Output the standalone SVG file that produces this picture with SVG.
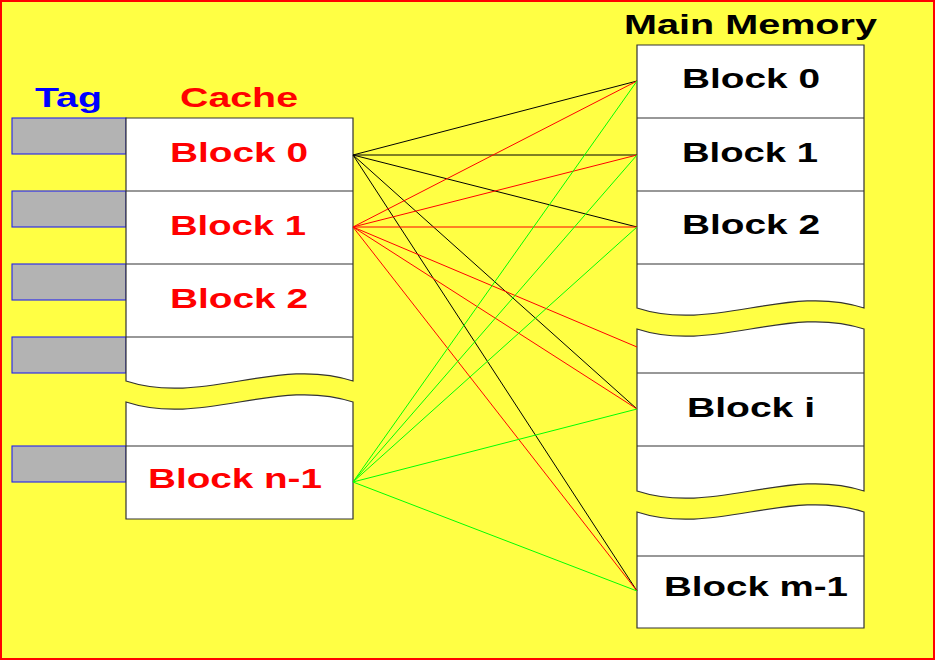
<svg xmlns="http://www.w3.org/2000/svg" width="935" height="660" viewBox="0 0 935 660">
<style>
.box{fill:#ffffff;stroke:#333333;stroke-width:1.2}
.div{stroke:#333333;stroke-width:1.2}
.tag{fill:#b3b3b3;stroke:#2222ee;stroke-width:1.1}
.t{font-family:"Liberation Sans",Arial,sans-serif;font-weight:bold;font-size:27px}
.red{fill:#ff0000}
.blk{fill:#000000}
.blue{fill:#0000ff}
.k{stroke:#000000;stroke-width:1}
.r{stroke:#ff0000;stroke-width:1}
.g{stroke:#00ff00;stroke-width:1}
</style>
<rect x="1" y="1" width="933" height="658" fill="#ffff44" stroke="#ff0000" stroke-width="2"/>
<g id="labels">
<text class="t blue" x="35" y="107" textLength="67" lengthAdjust="spacingAndGlyphs">Tag</text>
<text class="t red" x="180" y="107" textLength="118" lengthAdjust="spacingAndGlyphs">Cache</text>
<text class="t blk" x="624" y="34" textLength="253" lengthAdjust="spacingAndGlyphs">Main Memory</text>
</g>
<g id="tags">
<rect class="tag" x="12" y="118" width="114" height="36"/>
<rect class="tag" x="12" y="191" width="114" height="36"/>
<rect class="tag" x="12" y="264" width="114" height="36"/>
<rect class="tag" x="12" y="337" width="114" height="36"/>
<rect class="tag" x="12" y="446" width="114" height="36"/>
</g>
<g id="cache-upper">
<path class="box" d="M126 118 H353 V381 C277 356 202 406 126 381 Z"/>
<line class="div" x1="126" y1="191" x2="353" y2="191"/>
<line class="div" x1="126" y1="264" x2="353" y2="264"/>
<line class="div" x1="126" y1="337" x2="353" y2="337"/>
<text class="t red" x="170" y="162" textLength="138" lengthAdjust="spacingAndGlyphs">Block 0</text>
<text class="t red" x="170" y="235" textLength="136" lengthAdjust="spacingAndGlyphs">Block 1</text>
<text class="t red" x="170" y="308" textLength="138" lengthAdjust="spacingAndGlyphs">Block 2</text>
</g>
<g id="cache-lower">
<path class="box" d="M126 402 C202 427 277 377 353 402 V519 H126 Z"/>
<line class="div" x1="126" y1="446" x2="353" y2="446"/>
<text class="t red" x="148" y="488" textLength="174" lengthAdjust="spacingAndGlyphs">Block n-1</text>
</g>
<g id="mem-upper">
<path class="box" d="M637 45 H864 V308 C788 283 713 333 637 308 Z"/>
<line class="div" x1="637" y1="118" x2="864" y2="118"/>
<line class="div" x1="637" y1="191" x2="864" y2="191"/>
<line class="div" x1="637" y1="264" x2="864" y2="264"/>
<text class="t blk" x="682" y="88" textLength="138" lengthAdjust="spacingAndGlyphs">Block 0</text>
<text class="t blk" x="682" y="162" textLength="136" lengthAdjust="spacingAndGlyphs">Block 1</text>
<text class="t blk" x="682" y="234" textLength="138" lengthAdjust="spacingAndGlyphs">Block 2</text>
</g>
<g id="mem-middle">
<path class="box" d="M637 329 C713 354 788 304 864 329 V491 C788 466 713 516 637 491 Z"/>
<line class="div" x1="637" y1="373" x2="864" y2="373"/>
<line class="div" x1="637" y1="446" x2="864" y2="446"/>
<text class="t blk" x="687" y="417" textLength="128" lengthAdjust="spacingAndGlyphs">Block i</text>
</g>
<g id="mem-lower">
<path class="box" d="M637 512 C713 537 788 487 864 512 V628 H637 Z"/>
<line class="div" x1="637" y1="556" x2="864" y2="556"/>
<text class="t blk" x="664" y="596" textLength="184" lengthAdjust="spacingAndGlyphs">Block m-1</text>
</g>
<g id="connectors">
<line class="k" x1="353" y1="155" x2="637" y2="81"/>
<line class="k" x1="353" y1="155" x2="637" y2="155"/>
<line class="k" x1="353" y1="155" x2="637" y2="227"/>
<line class="k" x1="353" y1="155" x2="637" y2="409"/>
<line class="k" x1="353" y1="155" x2="637" y2="591"/>
<line class="r" x1="353" y1="227" x2="637" y2="81"/>
<line class="r" x1="353" y1="227" x2="637" y2="155"/>
<line class="r" x1="353" y1="227" x2="637" y2="227"/>
<line class="r" x1="353" y1="227" x2="637" y2="347"/>
<line class="r" x1="353" y1="227" x2="637" y2="409"/>
<line class="r" x1="353" y1="227" x2="637" y2="591"/>
<line class="g" x1="353" y1="482" x2="637" y2="81"/>
<line class="g" x1="353" y1="482" x2="637" y2="155"/>
<line class="g" x1="353" y1="482" x2="637" y2="227"/>
<line class="g" x1="353" y1="482" x2="637" y2="409"/>
<line class="g" x1="353" y1="482" x2="637" y2="591"/>
</g>
</svg>
